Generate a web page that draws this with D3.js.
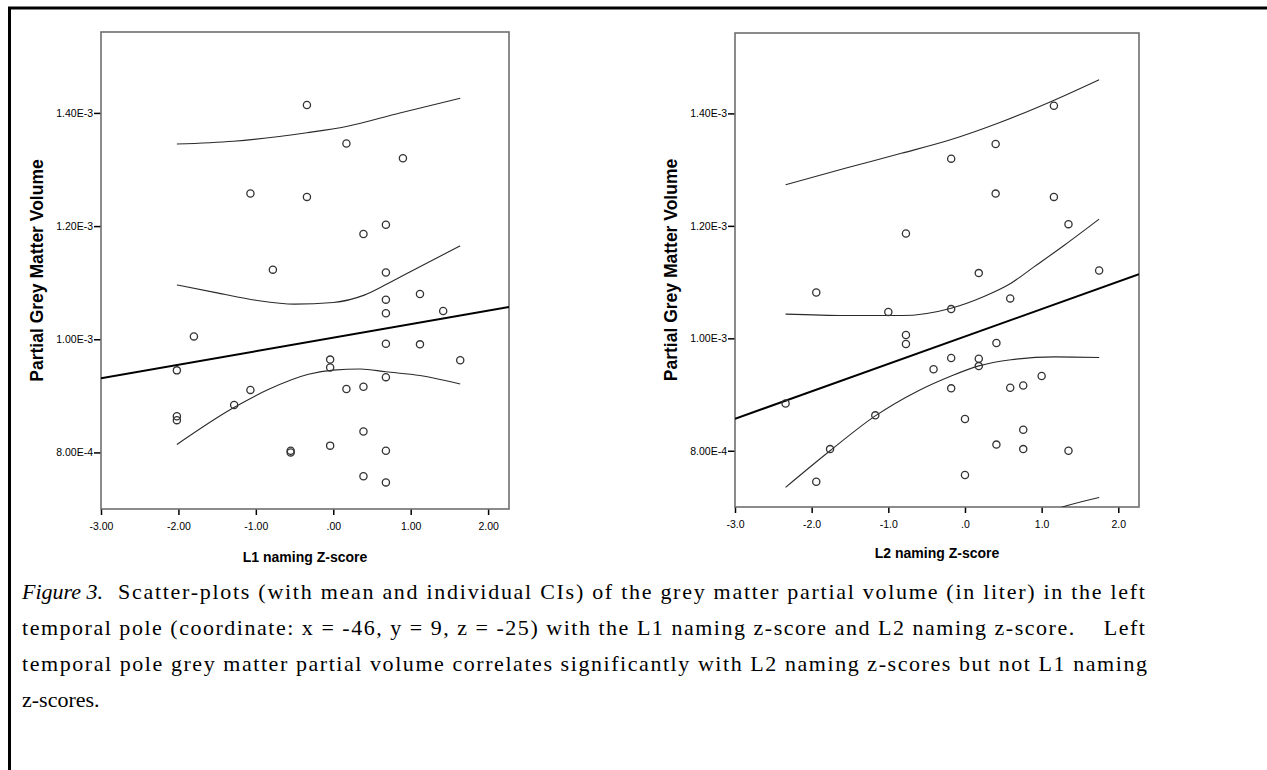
<!DOCTYPE html>
<html>
<head>
<meta charset="utf-8">
<script src="https://cdn.jsdelivr.net/npm/d3@7/dist/d3.min.js"></script>
<style>
  html, body { margin: 0; padding: 0; background: #fff; }
  svg { display: block; }
</style>
</head>
<body>
<svg id="chart" width="1267" height="770"></svg>
<script>
// ---------------- DATA ----------------
const xTickValues = [-3, -2, -1, 0, 1, 2];
const xTickLabelsL1 = ["-3.00", "-2.00", "-1.00", ".00", "1.00", "2.00"];
const xTickLabelsL2 = ["-3.0", "-2.0", "-1.0", ".0", "1.0", "2.0"];
const yTickValues = [0.8e-3, 1.0e-3, 1.2e-3, 1.4e-3];
const yTickLabels = ["8.00E-4", "1.00E-3", "1.20E-3", "1.40E-3"];
const xDomain = [-3, 2.27];
const yDomain = [0.700e-3, 1.543e-3];

const yTitle = "Partial Grey Matter Volume";
const xTitleL1 = "L1 naming Z-score";
const xTitleL2 = "L2 naming Z-score";

// points: [z-score, volume in E-3 liter]
const l1Points = [
  [-0.34,1.414],[0.17,1.346],[0.90,1.320],[-1.07,1.2575],[-0.34,1.2516],[0.68,1.2023],
  [0.39,1.186],[-0.78,1.123],[0.68,1.118],[1.12,1.080],[0.68,1.070],[0.68,1.046],
  [1.42,1.050],[-1.80,1.005],[0.68,0.992],[1.12,0.991],[-2.02,0.945],[-0.04,0.964],
  [-0.04,0.950],[1.64,0.963],[0.68,0.933],[-1.07,0.9105],[0.17,0.912],[0.39,0.916],
  [-1.28,0.884],[-2.02,0.864],[-2.02,0.857],[0.39,0.837],[-0.04,0.812],[-0.55,0.803],
  [-0.55,0.800],[0.68,0.803],[0.39,0.758],[0.68,0.747]
];
const l2Points = [
  [1.16,1.4136],[0.40,1.3456],[-0.18,1.3195],[0.40,1.2574],[1.16,1.2515],[1.35,1.203],
  [-0.77,1.1864],[0.18,1.116],[1.75,1.1207],[-1.94,1.0815],[0.59,1.071],[-1.00,1.047],
  [-0.18,1.052],[-0.77,1.006],[-0.77,0.990],[0.41,0.9917],[-0.18,0.965],[0.18,0.9637],
  [0.18,0.9506],[-0.41,0.945],[1.00,0.933],[0.59,0.912],[0.76,0.916],[-0.18,0.911],
  [-2.34,0.884],[-1.17,0.863],[0.00,0.8565],[0.76,0.8375],[-1.76,0.803],[0.41,0.811],
  [0.76,0.803],[1.35,0.800],[-1.94,0.745],[0.00,0.757]
];

// fit lines and CI curves: [z-score, volume in E-3 liter]
const l1Fit = [[-3, 0.931], [2.27, 1.057]];
const l1MeanUpper = [[-2.02,1.096],[-1.5,1.082],[-1.0,1.069],[-0.5,1.062],[0,1.065],[0.4,1.078],[0.7,1.098],[1.1,1.127],[1.64,1.165]];
const l1MeanLower = [[-2.02,0.814],[-1.3,0.878],[-0.84,0.911],[-0.32,0.938],[0,0.9455],[0.35,0.9475],[0.68,0.9425],[1.12,0.936],[1.64,0.921]];
const l1IndUpper = [[-2.02,1.345],[-1.29,1.350],[-0.34,1.365],[0.17,1.376],[0.86,1.400],[1.64,1.426]];

const l2Fit = [[-3, 0.857], [2.27, 1.114]];
const l2MeanUpper = [[-2.34,1.043],[-1.55,1.0405],[-0.83,1.0405],[-0.18,1.0536],[0.24,1.074],[0.6,1.098],[0.9,1.127],[1.3,1.166],[1.75,1.212]];
const l2MeanLower = [[-2.34,0.735],[-1.76,0.800],[-1.17,0.862],[-0.62,0.906],[-0.18,0.933],[0.18,0.951],[0.6,0.962],[1.17,0.967],[1.75,0.966]];
const l2IndUpper = [[-2.34,1.273],[-1.55,1.303],[-0.83,1.329],[-0.19,1.353],[0.42,1.382],[1.17,1.424],[1.75,1.460]];
const l2IndLower = [[-2.34,0.506],[-1.55,0.55],[-0.83,0.59],[-0.19,0.625],[0.42,0.652],[1.27,0.700],[1.75,0.717]];

const captionLabel = "Figure 3.";
const captionFirst = "Scatter-plots (with mean and individual CIs) of the grey matter partial volume (in liter) in the left";
const captionLines = [
  "temporal pole (coordinate: x = -46, y = 9, z = -25) with the L1 naming z-score and L2 naming z-score.    Left",
  "temporal pole grey matter partial volume correlates significantly with L2 naming z-scores but not L1 naming",
  "z-scores."
];

// ---------------- DRAW ----------------
const svg = d3.select("#chart");

// outer frame (top and left rules)
svg.append("line").attr("x1", 8).attr("x2", 1267).attr("y1", 8).attr("y2", 8)
  .attr("stroke", "#000").attr("stroke-width", 3);
svg.append("line").attr("x1", 9.5).attr("x2", 9.5).attr("y1", 7).attr("y2", 770)
  .attr("stroke", "#000").attr("stroke-width", 3);

function panel(cfg) {
  const { left, right, top, bottom, points, fit, curves, xLabels, xTitle, id, yTitleX, xTitleY } = cfg;
  const x = d3.scaleLinear().domain(xDomain).range([left, right]);
  const y = d3.scaleLinear().domain(yDomain).range([bottom, top]);
  const g = svg.append("g");

  g.append("clipPath").attr("id", id).append("rect")
    .attr("x", left).attr("y", top).attr("width", right - left).attr("height", bottom - top);

  // y axis
  const yAxis = d3.axisLeft(y).tickValues(yTickValues)
    .tickFormat((d, i) => yTickLabels[i]).tickSize(7).tickPadding(1);
  const ya = g.append("g").attr("transform", `translate(${left},0)`).call(yAxis);
  ya.select(".domain").remove();
  ya.selectAll("line").attr("stroke", "#000").attr("stroke-width", 1.5);
  ya.selectAll("text").attr("font-family", "'Liberation Sans', Arial, sans-serif")
    .attr("font-size", 10.5).attr("fill", "#000");

  // x axis
  const xAxis = d3.axisBottom(x).tickValues(xTickValues)
    .tickFormat((d, i) => xLabels[i]).tickSize(6).tickPadding(8);
  const xa = g.append("g").attr("transform", `translate(0,${bottom})`).call(xAxis);
  xa.select(".domain").remove();
  xa.selectAll("line").attr("stroke", "#000").attr("stroke-width", 1.5);
  xa.selectAll("text").attr("font-family", "'Liberation Sans', Arial, sans-serif")
    .attr("font-size", 10.5).attr("fill", "#000");

  // plot frame
  g.append("rect").attr("x", left).attr("y", top)
    .attr("width", right - left).attr("height", bottom - top)
    .attr("fill", "none").attr("stroke", "#6e6e6e").attr("stroke-width", 1.6);

  const plot = g.append("g").attr("clip-path", `url(#${id})`);
  const line = d3.line().x(d => x(d[0])).y(d => y(d[1] * 1e-3)).curve(d3.curveMonotoneX);

  curves.forEach(c => {
    plot.append("path").attr("d", line(c)).attr("fill", "none")
      .attr("stroke", "#2a2a2a").attr("stroke-width", 1.1);
  });
  plot.append("path").attr("d", d3.line().x(d => x(d[0])).y(d => y(d[1] * 1e-3))(fit))
    .attr("fill", "none").attr("stroke", "#000").attr("stroke-width", 2);

  plot.selectAll("circle.pt").data(points).join("circle").attr("class", "pt")
    .attr("cx", d => x(d[0])).attr("cy", d => y(d[1] * 1e-3)).attr("r", 3.6)
    .attr("fill", "none").attr("stroke", "#333").attr("stroke-width", 1.3);

  // titles
  g.append("text")
    .attr("transform", `translate(${yTitleX},${(top + bottom) / 2}) rotate(-90)`)
    .attr("text-anchor", "middle").attr("dominant-baseline", "central")
    .attr("font-family", "'Liberation Sans', Arial, sans-serif")
    .attr("font-weight", "bold").attr("font-size", 17.5).text(yTitle);
  g.append("text")
    .attr("x", (left + right) / 2).attr("y", xTitleY)
    .attr("text-anchor", "middle")
    .attr("font-family", "'Liberation Sans', Arial, sans-serif")
    .attr("font-weight", "bold").attr("font-size", 14).text(xTitle);
}

panel({ id: "clipL1", left: 101, right: 509, top: 32, bottom: 509,
  points: l1Points, fit: l1Fit, curves: [l1MeanUpper, l1MeanLower, l1IndUpper],
  xLabels: xTickLabelsL1, xTitle: xTitleL1, yTitleX: 37, xTitleY: 562 });
panel({ id: "clipL2", left: 735, right: 1139, top: 33, bottom: 507,
  points: l2Points, fit: l2Fit, curves: [l2MeanUpper, l2MeanLower, l2IndUpper, l2IndLower],
  xLabels: xTickLabelsL2, xTitle: xTitleL2, yTitleX: 671, xTitleY: 558 });

// caption
const cap = svg.append("g").attr("font-family", "'Liberation Serif', 'Times New Roman', serif")
  .attr("font-size", 22).attr("fill", "#000");
cap.append("text").attr("x", 22).attr("y", 599).attr("font-style", "italic").text(captionLabel);
cap.append("text").attr("x", 118).attr("y", 599)
  .attr("textLength", 1145 - 118).attr("lengthAdjust", "spacing").text(captionFirst);
cap.append("text").attr("x", 22).attr("y", 635).attr("xml:space", "preserve")
  .attr("textLength", 1145 - 22).attr("lengthAdjust", "spacing").text(captionLines[0]);
cap.append("text").attr("x", 22).attr("y", 671)
  .attr("textLength", 1147 - 22).attr("lengthAdjust", "spacing").text(captionLines[1]);
cap.append("text").attr("x", 22).attr("y", 707).text(captionLines[2]);
</script>
</body>
</html>
